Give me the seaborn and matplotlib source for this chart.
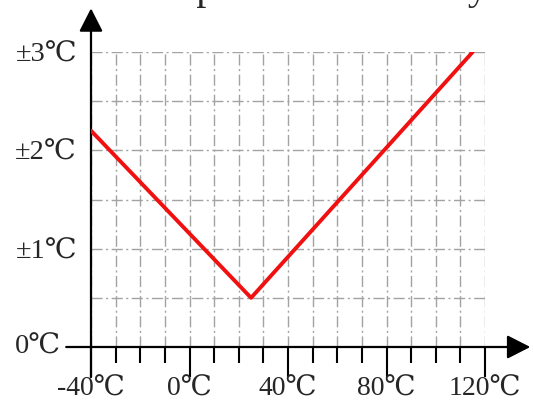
import seaborn as sns
import matplotlib.pyplot as plt
from matplotlib.ticker import MultipleLocator, FixedLocator
import pandas as pd

# accuracy curve
temp_c = [-40, 25, 115]
accuracy = [2.2, 0.5, 3.0]

x_ticks = [-40, 0, 40, 80, 120]
x_labels = ['-40℃', '0℃', '40℃', '80℃', '120℃']
y_ticks = [1, 2, 3]
y_labels = ['±1℃', '±2℃', '±3℃']
zero_label = '0℃'
title = 'Temperature Accuracy'

sns.set_theme(style='white')
plt.rcParams['font.family'] = ['Liberation Serif', 'DejaVu Serif']

fig = plt.figure(figsize=(5.33, 4.01), dpi=100)
ax = fig.add_axes([91 / 533, 1 - 347 / 401, 394 / 533, 295 / 401])

data = pd.DataFrame({'temp': temp_c, 'acc': accuracy})
sns.lineplot(data=data, x='temp', y='acc', ax=ax, color='#f01010', lw=2.8, zorder=5)

ax.set_xlim(-40, 120)
ax.set_ylim(0, 3)
ax.set_xlabel('')
ax.set_ylabel('')
for s in ax.spines.values():
    s.set_visible(False)

# ticks
ax.xaxis.set_major_locator(FixedLocator(x_ticks))
ax.set_xticklabels(x_labels)
ax.xaxis.set_minor_locator(MultipleLocator(10))
ax.tick_params(axis='x', which='major', direction='out', length=21.5, width=1.5,
               color='black', labelsize=20, pad=0, bottom=True)
ax.tick_params(axis='x', which='minor', direction='out', length=11.5, width=1.5,
               color='black', bottom=True)
ax.yaxis.set_major_locator(FixedLocator(y_ticks))
ax.set_yticklabels(y_labels)
ax.yaxis.set_minor_locator(MultipleLocator(0.5))
ax.tick_params(axis='y', which='both', length=0, labelsize=20.5, pad=10)

# dash-dot grid
ax.grid(True, which='both', color='#a3a3a3', lw=1.0, ls=(0, (8, 2.5, 1.5, 2.5)))
ax.set_axisbelow(True)

ax.text(-0.075, 0, zero_label, transform=ax.transAxes, ha='right', va='center', fontsize=20.5)

# axis lines with arrowheads
arrow = dict(arrowstyle='-|>,head_length=0.55,head_width=0.28', mutation_scale=26,
             lw=1.6, color='black', shrinkA=0, shrinkB=0)
ax.annotate('', xy=(1.115, 0), xytext=(-0.063, 0), xycoords='axes fraction',
            arrowprops=arrow, annotation_clip=False)
ax.annotate('', xy=(0, 1.148), xytext=(0, -0.102), xycoords='axes fraction',
            arrowprops=arrow, annotation_clip=False)

# title is cut off at the top of the picture, as in the source
fig.text(0.576, 1 + 1 / 401, title, ha='center', va='baseline', fontsize=28.8)

fig.savefig('out.png', dpi=100)
